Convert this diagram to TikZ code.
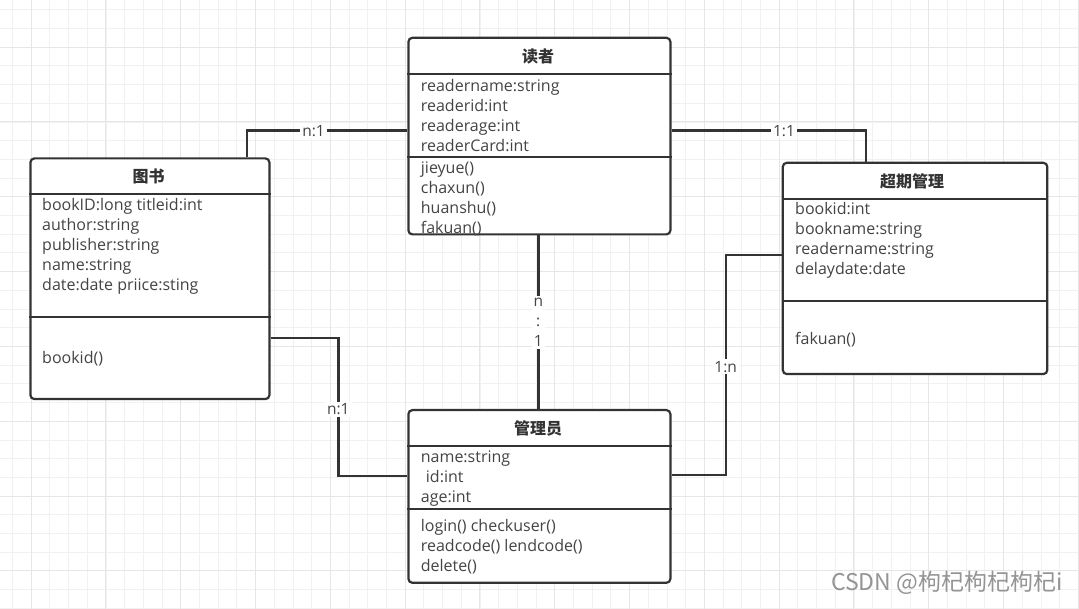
\documentclass[tikz,border=0pt]{standalone}
\usepackage{fontspec}
\setmainfont{Open Sans}
\newfontfamily\cjkfont{Noto Sans CJK SC}
\usetikzlibrary{positioning}
\definecolor{linegray}{HTML}{333333}
\definecolor{txtgray}{HTML}{444444}
\definecolor{gridminor}{HTML}{F1F1F1}
\definecolor{gridmajor}{HTML}{E6E6E6}
\tikzset{
  cls/.style   = {draw=linegray, fill=white, line width=2.2pt, rounded corners=4pt,
                  anchor=north west, inner sep=0pt},
  ttl/.style   = {font=\cjkfont\bfseries\fontsize{16}{18}\selectfont, text=linegray},
  attr/.style  = {anchor=base west, inner sep=0pt, font=\fontsize{16}{20}\selectfont, text=txtgray},
  rule/.style  = {draw=linegray, line width=2pt},
  conn/.style  = {draw=linegray, line width=2.4pt},
  mult/.style  = {fill=white, inner sep=2pt, align=center,
                  font=\fontsize{15.5}{20}\selectfont, text=txtgray},
  gmin/.style  = {draw=gridminor, line width=0.8pt},
  gmaj/.style  = {draw=gridmajor, line width=1pt}
}

\begin{document}
\begin{tikzpicture}[x=1pt, y=-1pt]
\useasboundingbox (0,0) rectangle (1079,609);
\fill[white] (0,0) rectangle (1079,609);
\foreach \i in {0,...,57} \draw[gmin] (12.4+18.7*\i,0) -- (12.4+18.7*\i,609);
\foreach \i in {0,...,32} \draw[gmin] (0,9.8+18.7*\i) -- (1079,9.8+18.7*\i);
\foreach \i in {0,...,14} \draw[gmaj] (31.1+74.8*\i,0) -- (31.1+74.8*\i,609);
\foreach \i in {0,...,7} \draw[gmaj] (0,47.2+74.8*\i) -- (1079,47.2+74.8*\i);

% classes
\node[cls, minimum width=262, minimum height=196.6] (dz) at (407.3,36.7) {};
\node[cls, minimum width=239, minimum height=240.7] (ts) at (29.3,157.3) {};
\node[cls, minimum width=264.5, minimum height=211.3] (cq) at (781.7,161.7) {};
\node[cls, minimum width=262, minimum height=172.7] (gl) at (407.3,409) {};

\node[ttl] (dz-t) at (538,56.7) {读者};
\node[ttl] (ts-t) at (148.5,176) {图书};
\node[ttl] (cq-t) at (912,181) {超期管理};
\node[ttl] (gl-t) at (538,428) {管理员};

\draw[rule] (dz.west |- 0,74) -- (dz.east |- 0,74);
\draw[rule] (dz.west |- 0,156.7) -- (dz.east |- 0,156.7);
\draw[rule] (ts.west |- 0,193.7) -- (ts.east |- 0,193.7);
\draw[rule] (ts.west |- 0,316.7) -- (ts.east |- 0,316.7);
\draw[rule] (cq.west |- 0,198.7) -- (cq.east |- 0,198.7);
\draw[rule] (cq.west |- 0,301) -- (cq.east |- 0,301);
\draw[rule] (gl.west |- 0,446) -- (gl.east |- 0,446);
\draw[rule] (gl.west |- 0,508.7) -- (gl.east |- 0,508.7);

\foreach \t [count=\i] in {readername:string, readerid:int, readerage:int, readerCard:int}
  \node[attr] (dz-a\i) at (420.7,71.7+20*\i) {\t};
\foreach \t [count=\i] in {jieyue(), chaxun(), huanshu(), fakuan()}
  \node[attr] (dz-m\i) at (420.7,153.3+20*\i) {\t};
\foreach \t [count=\i] in {bookID:long titleid:int, author:string, publisher:string, name:string, date:date priice:sting}
  \node[attr] (ts-a\i) at (42,191+20*\i) {\t};
\node[attr] (ts-m1) at (42,364) {bookid()};
\foreach \t [count=\i] in {bookid:int, bookname:string, readername:string, delaydate:date}
  \node[attr] (cq-a\i) at (795,195+20*\i) {\t};
\node[attr] (cq-m1) at (795,345) {fakuan()};
\node[attr] (gl-a1) at (420.7,462.7) {name:string};
\node[attr] (gl-a2) at (425.7,482.2) {id:int};
\node[attr] (gl-a3) at (420.7,502) {age:int};
\foreach \t [count=\i] in {login() checkuser(), readcode() lendcode(), delete()}
  \node[attr] (gl-m\i) at (420.7,511.7+20*\i) {\t};

% associations
\draw[conn] (ts.north -| 246.7,0) |- (dz.west |- 0,130.7);
\draw[conn] (dz.east |- 0,130.7) -| (cq.north -| 865.7,0);
\draw[conn] (dz.south -| 538.3,0) -- (gl.north -| 538.3,0);
\draw[conn] (ts.east |- 0,338.3) -| (338.3,476) -- (gl.west |- 0,476);
\draw[conn] (gl.east |- 0,475) -| (725.7,255) -- (cq.west |- 0,255);

\node[mult] (m-ts-dz) at (313.5,130.7) {n:1};
\node[mult] (m-dz-cq) at (784,130.7) {1:1};
\node[mult] (m-dz-gl) at (538.3,322.5) {n\\:\\1};
\node[mult] (m-ts-gl) at (338.3,409.3) {n:1};
\node[mult] (m-gl-cq) at (725.7,366.7) {1:n};

\node[font=\cjkfont\fontsize{23}{25}\selectfont, text=black!42, anchor=east] (mark) at (1066,583) {CSDN @枸杞枸杞枸杞i};
\end{tikzpicture}
\end{document}
